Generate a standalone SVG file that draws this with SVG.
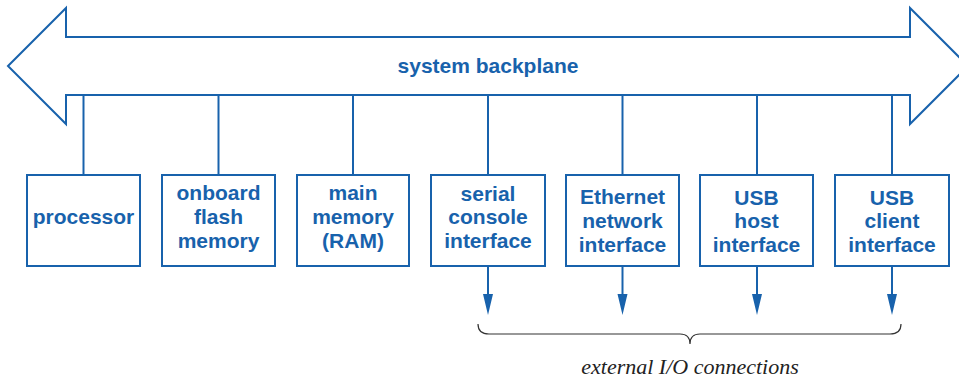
<svg xmlns="http://www.w3.org/2000/svg" width="959" height="380" viewBox="0 0 959 380">
<style>
.box{fill:#fff;stroke:#1862ac;stroke-width:2}
.ln{stroke:#1862ac;stroke-width:2;fill:none}
.lbl{font-family:"Liberation Sans",Arial,sans-serif;font-weight:bold;font-size:21px;fill:#1862ac;text-anchor:middle}
.cap{font-family:"Liberation Serif","Times New Roman",serif;font-style:italic;font-size:22px;fill:#222;text-anchor:middle}
</style>
<g id="backplane">
<path d="M8,66 L66,8 L66,37 L910,37 L910,8 L968,66 L910,124 L910,95 L66,95 L66,124 Z" fill="#fff" stroke="#1862ac" stroke-width="2" stroke-linejoin="miter"/>
<text class="lbl" x="488" y="73">system backplane</text>
</g>
<g id="connectors">
<line class="ln" x1="83.5" y1="95" x2="83.5" y2="175"/>
<line class="ln" x1="218.5" y1="95" x2="218.5" y2="175"/>
<line class="ln" x1="353" y1="95" x2="353" y2="175"/>
<line class="ln" x1="488" y1="95" x2="488" y2="175"/>
<line class="ln" x1="622.5" y1="95" x2="622.5" y2="175"/>
<line class="ln" x1="757" y1="95" x2="757" y2="175"/>
<line class="ln" x1="892" y1="95" x2="892" y2="175"/>
<line class="ln" x1="488" y1="266" x2="488" y2="295"/>
<line class="ln" x1="622.5" y1="266" x2="622.5" y2="295"/>
<line class="ln" x1="757" y1="266" x2="757" y2="295"/>
<line class="ln" x1="892" y1="266" x2="892" y2="295"/>
<path d="M483,294 L493,294 L488,315 Z M617.5,294 L627.5,294 L622.5,315 Z M752,294 L762,294 L757,315 Z M887,294 L897,294 L892,315 Z" fill="#1862ac"/>
<path d="M478,324 Q478,334 489,334 L680,334 Q690,334 690,344 Q690,334 700,334 L890,334 Q901,334 901,324" fill="none" stroke="#333" stroke-width="1.2"/>
</g>
<g id="processor">
<rect class="box" x="27" y="175" width="113" height="91"/>
<text class="lbl" x="83.5" y="224">processor</text>
</g>
<g id="flash">
<rect class="box" x="162" y="175" width="113" height="91"/>
<text class="lbl" x="218.5" y="200">onboard</text>
<text class="lbl" x="218.5" y="224">flash</text>
<text class="lbl" x="218.5" y="248">memory</text>
</g>
<g id="ram">
<rect class="box" x="297" y="175" width="112" height="91"/>
<text class="lbl" x="353" y="200">main</text>
<text class="lbl" x="353" y="224">memory</text>
<text class="lbl" x="353" y="248">(RAM)</text>
</g>
<g id="serial">
<rect class="box" x="431" y="175" width="114" height="91"/>
<text class="lbl" x="488" y="201">serial</text>
<text class="lbl" x="488" y="224">console</text>
<text class="lbl" x="488" y="248">interface</text>
</g>
<g id="ethernet">
<rect class="box" x="566" y="175" width="113" height="91"/>
<text class="lbl" x="622.5" y="204">Ethernet</text>
<text class="lbl" x="622.5" y="228">network</text>
<text class="lbl" x="622.5" y="252">interface</text>
</g>
<g id="usbhost">
<rect class="box" x="700" y="175" width="113" height="91"/>
<text class="lbl" x="756.5" y="205">USB</text>
<text class="lbl" x="756.5" y="228">host</text>
<text class="lbl" x="756.5" y="252">interface</text>
</g>
<g id="usbclient">
<rect class="box" x="835" y="175" width="114" height="91"/>
<text class="lbl" x="892" y="205">USB</text>
<text class="lbl" x="892" y="228">client</text>
<text class="lbl" x="892" y="252">interface</text>
</g>
<g id="caption">
<text class="cap" x="690" y="374">external I/O connections</text>
</g>
</svg>
